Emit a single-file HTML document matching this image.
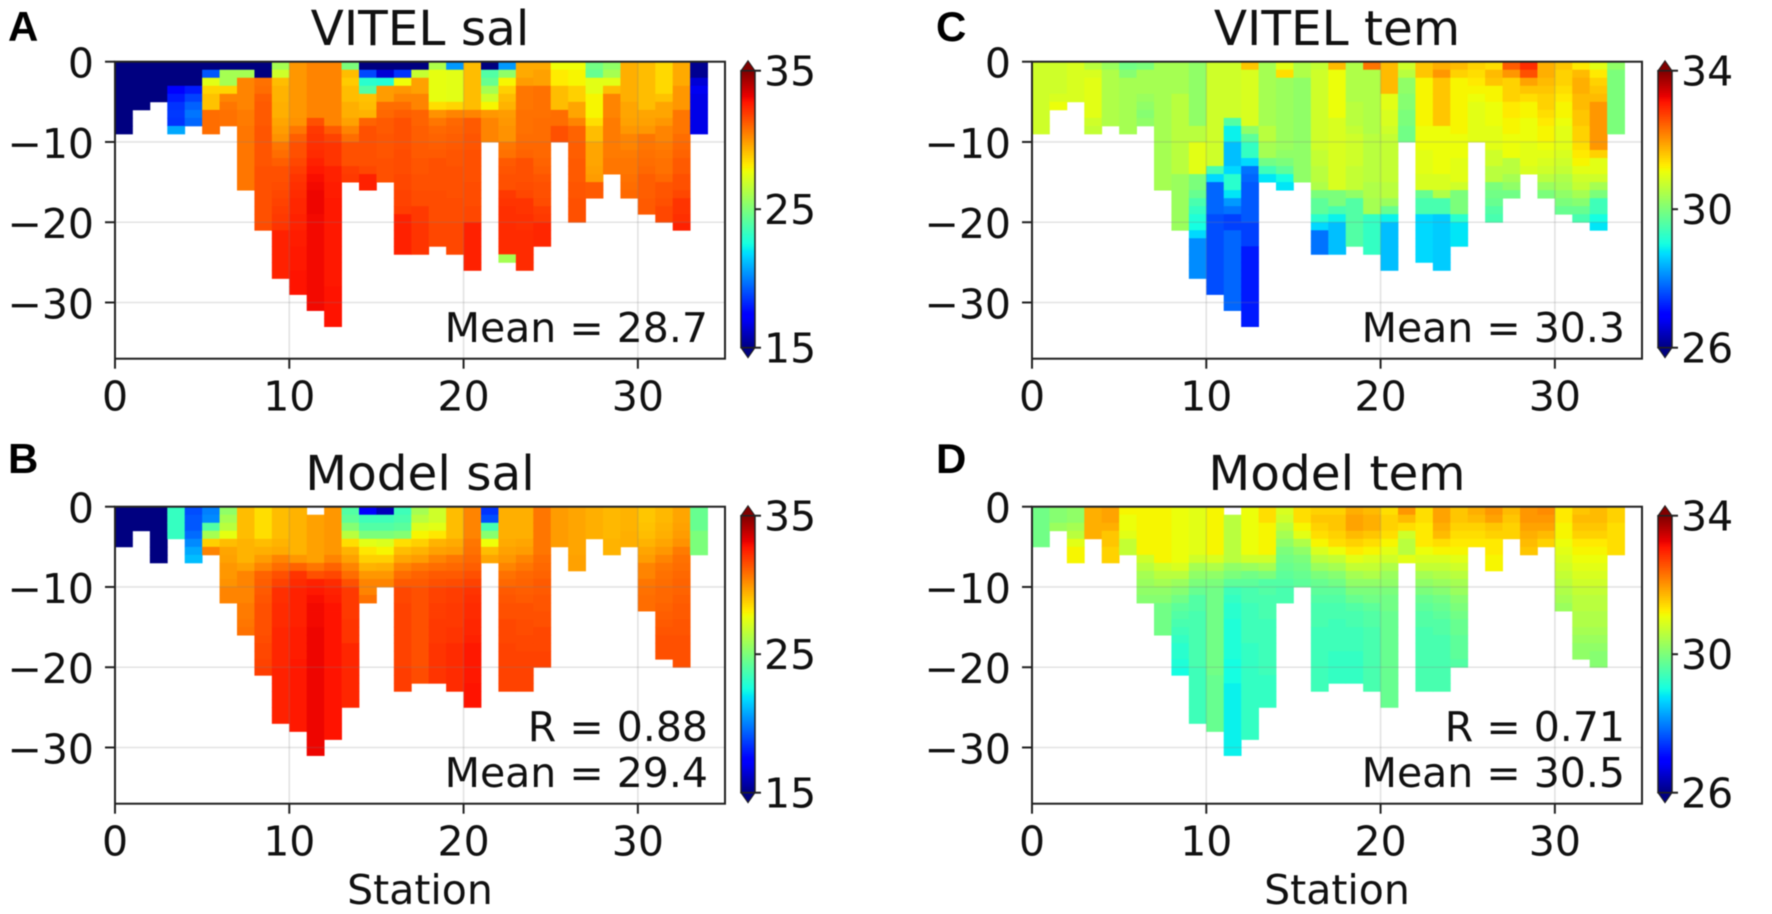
<!DOCTYPE html>
<html lang="en">
<head>
<meta charset="utf-8">
<title>VITEL and Model salinity and temperature sections</title>
<style>
html,body{margin:0;padding:0;background:#fff;}
svg{display:block;filter:blur(0.5px);}
text{font-family:"DejaVu Sans","Liberation Sans",sans-serif;fill:#111;}
.tick{font-size:41px;}
.title{font-size:48.5px;text-anchor:middle;}
.ann{font-size:41px;text-anchor:end;}
.letter{font-family:"Liberation Sans",sans-serif;font-size:42px;font-weight:bold;fill:#000;}
</style>
</head>
<body>
<svg id="fig" xmlns="http://www.w3.org/2000/svg" width="1772" height="914" viewBox="0 0 1772 914">
  <rect width="1772" height="914" fill="#fff"/>
  <g id="panelA"></g>
  <g id="panelB"></g>
  <g id="panelC"></g>
  <g id="panelD"></g>

  <text class="letter" x="8" y="41">A</text>
  <text class="letter" x="8" y="473">B</text>
  <text class="letter" x="936" y="41">C</text>
  <text class="letter" x="936" y="473">D</text>

  <text class="title" x="420" y="45">VITEL sal</text>
  <text class="title" x="420" y="490">Model sal</text>
  <text class="title" x="1337" y="45">VITEL tem</text>
  <text class="title" x="1337" y="490">Model tem</text>

  <text class="ann" x="708" y="342">Mean = 28.7</text>
  <text class="ann" x="708" y="741">R = 0.88</text>
  <text class="ann" x="708" y="787">Mean = 29.4</text>
  <text class="ann" x="1625" y="342">Mean = 30.3</text>
  <text class="ann" x="1625" y="741">R = 0.71</text>
  <text class="ann" x="1625" y="787">Mean = 30.5</text>

  <text class="tick" x="420" y="904" text-anchor="middle">Station</text>
  <text class="tick" x="1337" y="904" text-anchor="middle">Station</text>
</svg>
<script>
const xTicks = [0, 10, 20, 30];
const yTicks = [0, -10, -20, -30];
const salBarTicks = [15, 25, 35];
const temBarTicks = [26, 30, 34];

const vitelSal = [
[15,15,15,15,15,15,15,15,15],
[15,15,15,15,15,15],
[15,15,15,15,15],
[15,15,15,17.5,18,18.5,18.6,18.5,20.8],
[15,15,15,18,18.8,19.4,19.8,19.5],
[15,19.2,27.5,28.7,29.1,29.1,30.9,30.9,30.9],
[15,26,26,28.7,30.4,30.7,30.8,30.8],
[15,26,30.4,30.4,30.4,30.4,30.6,30.6,30.7,30.7,30.7,30.7,30.7,30.7,30.7,30.7],
[15,15,30.8,30.9,31.2,31.3,31.3,31.3,31.4,31.4,31.4,31.4,31.4,31.5,31.5,31.5,31.5,31.5,31.5,31.5,31.6],
[26,27,29.2,29.4,29.4,29.5,29.5,29.7,29.9,30.1,30.7,30.9,31.2,31.5,31.5,31.6,31.7,31.8,31.9,32,32.1,32.5,32.5,32.5,32.5,32.5,32.5],
[30,30,30,30,30,30,30,30.1,30.7,31.2,31.5,31.5,31.7,31.9,32.1,32.2,32.3,32.4,32.4,32.5,32.5,32.6,32.6,32.7,32.7,32.7,32.8,32.8,32.8],
[30.4,30.4,30.4,30.4,30.4,30.4,30.4,31.5,32,32.1,32.2,32.3,32.5,32.7,32.9,33,33.1,33.1,33.1,33,33,33,33,33,33,33,33,33,33,33,33],
[30.4,30.4,30.4,30.4,30.4,30.4,30.4,30.4,31.3,31.8,32.1,32.1,32.1,32.5,32.5,32.6,32.6,32.7,32.7,32.7,32.7,32.7,32.7,32.7,32.7,32.7,32.7,32.7,32.8,32.8,32.8,32.8,32.8],
[25,29.2,28.9,29.2,29.2,29.5,29.5,29.8,30.4,30.9,31.5,31.5,31.5,31.9,32],
[15,18.9,23,24,29.1,29.2,29.4,31.1,31.5,31.5,31.5,31.5,31.5,31.7,32.5,32.5],
[15,16.5,22.8,29.9,29.9,30.9,31,31.3,31.3,31.4,31.4,31.4,31.5,31.5,31.5],
[15,18.5,27.8,30,30.4,30.9,31.2,31.5,31.5,31.5,31.5,31.6,31.6,31.6,31.7,31.7,31.8,31.8,31.9,32.5,32.5,32.5,32.5,32.5],
[15,26.8,29.8,29.8,30.4,30.4,31.1,31.1,31.2,31.2,31.3,31.3,31.4,31.4,31.5,31.5,31.6,31.6,32,32,32.1,32.1,32.1,32.1],
[26.2,27.6,27.6,27.6,27.6,28.5,30.1,30.7,31,31.1,31.2,31.3,31.5,31.5,31.5,31.5,31.6,31.6,31.6,31.6,31.7,31.7,31.7],
[20.5,27.5,27.5,27.5,27.5,28.7,30.4,31,31.1,31.2,31.3,31.4,31.4,31.5,31.5,31.5,31.5,31.6,31.6,31.6,31.7,31.7,31.7,31.7],
[29.2,29.2,29.2,29.2,29.2,29.2,30.4,31.3,31.3,31.4,31.4,31.5,31.5,31.5,31.5,31.6,31.6,31.6,31.7,31.7,32.5,32.5,32.5,32.5,32.5,32.5],
[15,24,24.5,26,27,28,30,30.4,30.4,30.4],
[20.5,25.5,28,28.8,29.2,29.4,29.9,30,30.1,30.1,30.7,30.8,31.3,31.4,31.5,31.5,32,32.1,32.2,32.2,32.3,32.3,32.3,32.3,26],
[29.6,29.6,29.9,30.7,30.7,30.7,30.8,30.8,30.8,30.9,31,31.1,31.5,31.5,31.5,31.6,31.7,32.1,32.1,32.2,32.2,32.3,32.3,32.3,32.3,32.3],
[29.6,29.8,29.8,30.8,30.8,30.8,30.8,30.9,30.9,30.9,31,31,31.1,31.2,31.4,31.5,31.5,31.6,31.9,32,32.4,32.4,32.4],
[27.8,28.2,28.2,29.2,29.2,29.2,30.9,30.9,31.5,31.5],
[27.8,28,28,28.8,28.8,29.7,29.7,30.4,31.1,31.1,31.2,31.2,31.3,31.3,31.3,31.4,31.4,31.5,31.5,31.5],
[24.8,24.5,27.5,27.5,28,28,28,28.5,29.2,29.2,29.7,29.7,29.7,29.8,29.9,31.3,31.3],
[25.5,26,27.5,29.2,30.4,30.4,30.4,30.6,30.6,30.6,30.6,30.6,30.7,30.7],
[29.5,29.5,29.5,29.5,29.5,29.7,29.7,29.8,30,30.4,30.4,30.6,30.7,30.7,30.8,30.9,31],
[29.2,29.2,29.2,29.2,29.2,29.2,29.7,29.8,30,30.7,30.7,30.8,30.9,31,31.2,31.2,31.2,31.3,31.3],
[28.6,28.6,28.6,28.6,29.1,29.7,29.7,30,30.4,30.4,30.6,30.7,30.8,30.8,31,31.4,31.4,31.5,31.7,31.7],
[29.6,29.6,29.6,30,30,30,30.7,30.7,30.7,30.9,31,31.1,31.3,31.3,31.5,31.5,31.7,32.1,32.1,32.2,32.5],
[15.3,15.3,16.5,17,16.8,16.8,16.8,16.8,16.8]
];

const modelSal = [
[15,15,15,15,15],
[15,15,15],
[15,15,15,15,15,15,15],
[23.3,23.3,23.3,23.3],
[19,19.2,19.2,19.6,20.2,20.8,21.2],
[20,20.2,24,26,28.8,30.4],
[25.5,26,26.5,27.6,29.2,29.7,29.8,30,30,30.1,30.4,30.4],
[29.2,29.2,29.2,29.2,29.4,29.4,29.4,29.8,30.4,30.4,30.4,30.4,30.6,30.6,30.7,30.8],
[28.5,28.5,28.5,28.5,29.2,29.5,29.9,30.4,31.1,31.2,31.3,31.4,31.5,31.5,31.5,31.5,31.6,31.7,31.7,31.8,31.9],
[29.2,29.2,29.2,29.2,29.4,29.6,30.4,30.9,31.5,31.8,32.2,32.2,32.3,32.3,32.3,32.4,32.4,32.4,32.4,32.4,32.5,32.5,32.5,32.5,32.5,32.5,32.5],
[29.4,29.4,29.4,29.4,29.4,29.4,30,31.1,32.1,32.3,32.5,32.5,32.5,32.5,32.5,32.6,32.6,32.6,32.6,32.7,32.7,32.7,32.7,32.7,32.7,32.7,32.7,32.7],
[null,29.8,29.8,29.8,29.8,29.8,29.8,30.7,31.5,32.5,32.7,32.9,33,33,33,33.1,33.1,33.1,33.1,33.1,33.1,33.1,33.1,33.1,33.1,33.1,33.1,33.1,33.1,33.1,33.1],
[30,30,30,30,30,30,30.4,31.1,31.7,32.3,32.5,32.6,32.8,32.8,32.8,32.8,32.8,32.8,32.8,32.8,32.8,32.8,32.8,32.8,32.8,32.8,32.8,32.8,32.8],
[24,24.3,25.2,26.5,28.5,29.4,29.8,30.4,30.9,31.5,32,32,32,32,32.1,32.1,32.1,32.4,32.4,32.4,32.4,32.4,32.4,32.4,32.4],
[17.5,23.5,24,25,27.5,28.3,28.8,29.4,30,30.4,30.4,30.8],
[16,23.5,24,25,27.3,28,28.8,29.5,30,30.4],
[23.5,23.8,24.2,25.2,28.5,29.2,29.7,30.4,30.9,31.3,31.7,31.7,31.8,31.8,31.8,31.8,31.8,31.8,31.8,31.8,31.9,31.9,31.9],
[26,26.5,27.3,28,28.8,29.4,29.9,30.7,31.1,31.3,31.5,31.5,31.5,31.5,31.5,31.5,31.5,31.5,31.5,31.5,31.6,31.6],
[27,27,27.5,28.3,29.4,29.8,30.4,30.9,31.3,31.5,31.8,31.8,31.9,31.9,32,32,32,32.1,32.1,32.1,32.1,32.1],
[29.2,29.2,29.2,29.2,29.6,29.9,30.7,31,31.3,31.6,31.9,31.9,32,32,32,32.1,32.1,32.3,32.3,32.3,32.3,32.3,32.3],
[30.4,30.4,30.4,30.4,30.7,30.8,31,31.2,31.5,31.8,32.1,32.2,32.3,32.3,32.4,32.4,32.5,32.7,32.7,32.7,32.7,32.7,32.8,32.8,32.8],
[18.5,19,23.7,25.3,27.8,29.2,29.7],
[29.5,29.5,29.5,29.5,29.6,29.8,30,30.4,30.8,31,31.3,31.4,31.5,31.5,31.7,31.7,31.7,31.8,31.8,31.8,31.8,31.8,31.8],
[29.5,29.5,29.5,29.5,29.7,29.9,30.4,30.7,31,31.1,31.2,31.3,31.5,31.5,31.6,31.6,31.7,31.7,31.8,31.8,31.8,31.8,31.8],
[30.7,30.7,30.7,30.7,30.7,30.7,30.9,31,31.1,31.3,31.3,31.4,31.4,31.5,31.5,31.7,31.7,31.7,31.8,31.8],
[29.9,29.9,29.9,29.9,29.9],
[29.7,29.7,29.7,29.7,29.7,29.7,29.8,29.8],
[29.5,29.5,29.5,29.5],
[29.3,29.3,29.3,29.3,29.4,29.4],
[29.4,29.4,29.4,29.5,29.5],
[29,29,29.1,29.2,29.4,29.7,29.9,30.4,30.4,30.7,30.8,30.9,30.9],
[29.3,29.3,29.4,29.5,29.7,30,30.4,30.7,30.8,30.9,31,31,31.1,31.2,31.3,31.4,31.5,31.5,31.5],
[29.7,29.7,29.8,29.9,30.1,30.6,30.8,30.9,31,31.1,31.1,31.2,31.3,31.3,31.4,31.4,31.5,31.5,31.5,31.5],
[24.5,24.5,24.5,25,25,25]
];

const vitelTem = [
[30.8,30.8,30.8,30.8,30.8,30.8,30.8,30.8,30.8],
[30.8,30.8,30.8,30.8,30.9,31.1],
[30.9,30.9,30.9,30.9,30.9],
[30.6,30.9,31,31,31,31,31,30.8,30.7],
[30.3,30.5,30.5,30.5,30.5,30.5,30.5,30.5],
[29.9,30.1,30.4,30.4,30.4,30.4,30.4,30.4,30.4],
[30,30.4,30.4,30.4,30.3,30.2,30.1,30.2],
[30.4,30.4,30.4,30.4,30.4,30.4,30.4,30.4,30.4,30.4,30.4,30.4,30.4,30.4,30.4,30.4],
[30.4,30.4,30.4,30.4,30.6,30.6,30.6,30.6,30.6,30.6,30.6,30.6,30.6,30.6,30.3,30.3,30.3,30.3,30.3,30.3,30.3],
[30.2,30.2,30.2,30.2,30.2,30.2,30.2,30.2,30.6,30.6,31,31,31,31,30,30,29.8,29.5,29.3,29.1,29,28.7,28.1,28.1,28.1,28.1,28.1],
[30.8,30.8,30.8,30.8,30.8,30.8,30.8,30.8,30.8,30.8,30.8,30.8,30.8,29.5,28.7,27.8,27.8,27.8,27.8,27.6,27.6,27.6,27.6,27.6,27.6,27.6,27.6,27.6,27.6],
[30.8,30.8,30.8,30.8,30.8,30.8,30.8,29.6,28.9,28.9,28.5,28.5,28.5,28.7,29.2,29.2,28.8,28.2,27.9,27.5,27.5,27.8,27.8,27.8,27.8,27.8,27.8,27.8,27.8,27.8,27.8],
[31.6,30.9,30.9,30.9,30.9,30.9,30.9,30.9,30.2,29.7,29.3,29.3,28.7,27.9,27.8,27.7,27.7,27.7,27.7,27.7,27.5,27.5,27.5,27.2,27.2,27.2,27.2,27.2,27.2,27.2,27.2,27.2,27.2],
[30.4,30.4,30.4,30.4,30.4,30.4,30.4,30.4,30.6,30.6,30.4,30.4,29.9,29.4,28.8],
[31,31.4,30.3,30.3,30.3,30.3,30.3,30.3,30.3,30.3,30.3,30.2,30,29.7,29,28.8],
[30.5,30.5,30.2,30.2,30.2,30.2,30.2,30.2,30.2,30.2,30.2,30.2,30.2,30.2,30.2],
[30.7,30.8,30.8,30.8,30.8,30.8,30.8,30.8,30.8,30.8,30.8,30.7,30.7,30.6,30.6,30.5,30,29.7,29.7,29.2,28.7,27.9,27.9,27.9],
[31.7,31.1,31.1,31.1,31.1,31.1,31.1,30.9,30.9,30.9,30.9,30.9,30.9,30.9,30.9,30.9,30,30,29.5,28.9,28.5,28.5,28.5,28.5],
[30.5,30.5,30.5,30.5,30.5,30.6,30.6,30.6,30.7,30.8,30.8,30.8,30.8,30.7,30.7,30.7,30.2,29.6,29.6,29.6,29.6,29.6,29.6],
[32.3,30.5,30.5,30.5,30.5,30.5,30.5,30.5,30.5,30.6,30.6,30.6,30.6,30.6,30.6,30.5,30.5,30.4,30.4,29.3,29.3,29.3,29.3,29.3],
[31.7,31.7,31.7,31.7,31,31,30.9,30.9,30.8,30.7,30.7,30.7,30.7,30.7,30.7,30.6,30.6,30.3,29.8,28.9,28.5,28.5,28.5,28.5,28.5,28.5],
[30.8,30.6,30.2,30.2,30.1,30.1,30,30,29.9,29.9],
[31.6,31.6,31.2,31.2,31.2,31.2,31.2,31.2,31.1,31.1,31.1,31,31,31,30.9,30.9,29.8,29.5,29.5,28.7,28.7,28.7,28.7,28.7,28.7],
[31.8,32,31.6,31.6,31.6,31.6,31.6,31.6,31.1,31.1,31.1,31.1,31.1,31.1,30.9,30.9,30.5,29.5,29.5,28.6,28.6,28.6,28.6,28.6,28.6,28.6],
[31.7,31.5,31.2,31.2,31.2,31.2,31.2,31.2,31.2,31.1,31.1,31.1,31,31,31,30.8,30,30,30,29.2,28.8,28.8,28.8],
[31.5,31.4,31.3,31.2,31.1,31,31,31,31,31],
[31.4,31.7,31.6,31.2,31.2,31.1,31.1,31.1,31,31,31,30.8,30.8,30.6,30.6,30,29.9,29.8,29.6,29.5],
[32.5,32,31.5,31.5,31.5,31.3,31.3,31.2,31.2,31.1,31.1,31.1,30.6,30.6,30.4,30.2,29.9],
[32.9,32.6,31.9,31.6,31.4,31.2,31.2,31.1,31.1,31.1,31,31,31,30.9],
[31.8,31.8,31.7,31.6,31.5,31.5,31.4,31.3,31.2,31.2,31.1,31,30.9,30.8,30.6,30.3,30],
[31.6,31.5,31.5,31.4,31.3,31.2,31.2,31.1,31,31,31,30.9,30.8,30.7,30.5,30.4,30.2,30,29.8],
[31.3,31.7,31.8,31.8,31.7,31.7,31.6,31.6,31.5,31.5,31.4,31.3,31.2,31,30.8,30.7,30.4,30.1,29.8,29.5],
[31,31.3,31.5,31.6,31.7,32,32,32,32,32,32,31.5,31,31,30.8,30.4,30,29.4,29.4,29,28.8],
[30.2,30,30,30,30,30,30,30,30]
];

const modelTem = [
[29.9,29.9,29.9,29.9,29.9],
[30.1,30.1,30.3],
[30.2,30.2,30.4,30.6,31,31.2,31.2],
[31.8,31.8,31.8,31.8],
[31.9,31.9,31.8,31.6,31.6,31.5,31.5],
[31.2,31.1,31.1,31,30.7,30.7],
[31.2,31.2,31.2,31.2,31.2,31.2,30.8,30.6,30.4,30.3,30.2,30.1],
[31.2,31.2,31.2,31.2,31.2,31.2,31.2,30.8,30.6,30.4,30.2,30.1,29.9,29.9,29.9,29.9],
[31.1,31.1,31.1,31.1,31.1,31.1,31.1,30.9,30.6,30.3,30.1,29.9,29.7,29.6,29.5,29.4,29.3,29.2,29.2,29.1,29],
[31,31,31,31,31,31,30.8,30.4,30.2,30,29.8,29.6,29.6,29.5,29.5,29.5,29.5,29.5,29.5,29.5,29.4,29.4,29.4,29.4,29.4,29.4,29.4],
[31.2,31.2,31.2,31.2,31.2,31.2,30.9,30.5,30.2,30,29.9,29.9,29.9,29.9,29.9,29.9,29.9,29.9,29.9,29.9,29.9,29.8,29.8,29.8,29.8,29.8,29.8,29.8],
[null,30.6,30.6,30.6,30.6,30.6,30.6,30.2,30,29.7,29.4,29.3,29.2,29.2,29.1,29.1,29.1,29.1,29.1,29,29,29,28.9,28.9,28.9,28.9,28.9,28.9,28.9,28.9,28.9],
[31.1,31.1,31.1,31.1,31.1,31.1,30.8,30.3,29.9,29.7,29.5,29.5,29.4,29.4,29.4,29.4,29.4,29.3,29.3,29.3,29.3,29.3,29.3,29.3,29.3,29.3,29.3,29.3,29.3],
[31.4,31.4,31.2,31.2,31.2,31.2,30.8,30.4,30,29.6,29.6,29.5,29.5,29.5,29.4,29.4,29.4,29.4,29.4,29.4,29.4,29.3,29.3,29.3,29.3],
[30.9,30.8,30.6,30.4,30.2,30,29.9,29.8,29.7,29.6,29.5,29.5],
[31.4,31.4,31.2,31,30.5,30.2,30,29.9,29.8,29.7],
[31.5,31.6,31.5,31.4,31.2,30.9,30.6,30.3,30,29.8,29.7,29.6,29.5,29.5,29.5,29.4,29.4,29.4,29.4,29.4,29.4,29.4,29.4],
[31.5,31.6,31.6,31.5,31.4,31.1,30.7,30.4,30.1,29.9,29.7,29.6,29.5,29.5,29.4,29.4,29.4,29.4,29.3,29.3,29.3,29.3],
[31.8,31.9,31.9,31.7,31.5,31.3,31,30.7,30.4,30.2,30,29.8,29.6,29.5,29.5,29.4,29.4,29.4,29.3,29.3,29.3,29.3],
[31.7,31.8,31.8,31.6,31.4,31.2,30.9,30.7,30.5,30.2,30,29.9,29.7,29.6,29.6,29.5,29.5,29.5,29.5,29.5,29.5,29.5,29.5],
[31.4,31.5,31.5,31.4,31.2,31,30.8,30.5,30.3,30.2,30,29.9,29.9,29.8,29.8,29.8,29.8,29.8,29.8,29.8,29.8,29.8,29.8,29.8,29.8],
[32,31.7,31.4,30.8,30.6,30.6,31],
[31.4,31.4,31.3,31.3,31.3,31.1,30.9,30.7,30.4,30.2,30,29.8,29.7,29.6,29.6,29.5,29.5,29.5,29.5,29.5,29.5,29.5,29.5],
[31.9,31.9,31.8,31.7,31.4,31.2,30.9,30.7,30.5,30.3,30.1,29.9,29.8,29.7,29.6,29.6,29.5,29.5,29.5,29.5,29.5,29.5,29.5],
[31.6,31.6,31.5,31.4,31.3,31.2,31,30.8,30.6,30.4,30.3,30.1,30,29.9,29.8,29.8,29.7,29.7,29.7,29.6],
[31.8,31.7,31.5,31.4,31.3],
[32,31.9,31.6,31.5,31.3,31.3,31.2,31.2],
[31.7,31.6,31.5,31.5],
[32,32,31.9,31.8,31.7,31.6],
[32.1,32,31.9,31.7,31.5],
[31.3,31.3,31.2,31.2,31.1,31,30.9,30.8,30.7,30.6,30.5,30.4,30.3],
[31.6,31.7,31.6,31.5,31.3,31.2,31.1,31,30.9,30.8,30.7,30.6,30.6,30.5,30.5,30.4,30.3,30.2,30.2],
[31.7,31.7,31.6,31.5,31.3,31.2,31.1,31,30.9,30.8,30.7,30.6,30.6,30.5,30.5,30.4,30.3,30.2,30.1,30.1],
[31.5,31.5,31.4,31.4,31.4,31.4]
];

const NS = 'http://www.w3.org/2000/svg';

function ramp(t, knots) {
  for (let i = 1; i < knots.length; i++) {
    if (t <= knots[i][0]) {
      const a = knots[i - 1], b = knots[i];
      return a[1] + (b[1] - a[1]) * (t - a[0]) / (b[0] - a[0]);
    }
  }
  return knots[knots.length - 1][1];
}

function jet(t) {
  t = Math.max(0, Math.min(1, t));
  const r = ramp(t, [[0, 0], [0.35, 0], [0.66, 1], [0.89, 1], [1, 0.5]]);
  const g = ramp(t, [[0, 0], [0.125, 0], [0.375, 1], [0.64, 1], [0.91, 0], [1, 0]]);
  const b = ramp(t, [[0, 0.5], [0.11, 1], [0.34, 1], [0.65, 0], [1, 0]]);
  return 'rgb(' + Math.round(255 * r) + ',' + Math.round(255 * g) + ',' + Math.round(255 * b) + ')';
}

function add(parent, tag, attrs) {
  const el = document.createElementNS(NS, tag);
  for (const k in attrs) el.setAttribute(k, attrs[k]);
  parent.appendChild(el);
  return el;
}

function drawPanel(id, values, vmin, vmax, barTicks, left, top) {
  const g = document.getElementById(id);
  const W = 610, H = 297;
  const xScale = (s) => left + (s / 35) * W;
  const yScale = (d) => top + (-d / 37) * H;
  const colorOf = (v) => jet((v - vmin) / (vmax - vmin));

  values.forEach((profile, station) => {
    profile.forEach((v, depth) => {
      if (v === null) return;
      const x0 = xScale(station), x1 = xScale(station + 1);
      const y0 = yScale(-depth), y1 = yScale(-(depth + 1));
      const cell = add(g, 'rect', {x: x0, y: y0, width: x1 - x0 + 0.4, height: y1 - y0 + 0.4, fill: colorOf(v)});
      
      
    });
  });

  xTicks.forEach((t) => {
    const x = xScale(t);
    if (t !== 0) {
      const grid = add(g, 'line', {x1: x, x2: x, y1: top, y2: top + H, stroke: '#808080', 'stroke-opacity': 0.22, 'stroke-width': 1.6});
      
      
    }
    const mark = add(g, 'line', {x1: x, x2: x, y1: top + H, y2: top + H + 10, stroke: '#222', 'stroke-width': 2});
    
    
    const label = add(g, 'text', {x: x, y: top + H + 52, 'text-anchor': 'middle', class: 'tick'});
    label.textContent = String(t);
    
    
  });

  yTicks.forEach((t) => {
    const y = yScale(t);
    if (t !== 0) {
      const grid = add(g, 'line', {x1: left, x2: left + W, y1: y, y2: y, stroke: '#808080', 'stroke-opacity': 0.22, 'stroke-width': 1.6});
      
      
    }
    const mark = add(g, 'line', {x1: left - 10, x2: left, y1: y, y2: y, stroke: '#222', 'stroke-width': 2});
    
    
    const label = add(g, 'text', {x: left - 21, y: y + 16, 'text-anchor': 'end', class: 'tick'});
    label.textContent = String(t).replace('-', '\u2212');
    
    
  });

  const frame = add(g, 'rect', {x: left, y: top, width: W, height: H, fill: 'none', stroke: '#222', 'stroke-width': 2});
  
  

  const barLeft = left + 626, barW = 14, barTop = top + 9, barH = 277;
  const barY = (v) => barTop + (vmax - v) / (vmax - vmin) * barH;
  const steps = 128;
  for (let i = 0; i < steps; i++) {
    const v = vmin + (i + 0.5) / steps * (vmax - vmin);
    const seg = add(g, 'rect', {x: barLeft, y: barY(vmin + (i + 1) / steps * (vmax - vmin)), width: barW, height: barH / steps + 0.5, fill: colorOf(v)});
    
    
  }
  const tipTop = add(g, 'polygon', {points: barLeft + ',' + barTop + ' ' + (barLeft + barW) + ',' + barTop + ' ' + (barLeft + barW / 2) + ',' + (barTop - 10), fill: '#800000', stroke: '#222', 'stroke-width': 1});
  
  
  const tipBottom = add(g, 'polygon', {points: barLeft + ',' + (barTop + barH) + ' ' + (barLeft + barW) + ',' + (barTop + barH) + ' ' + (barLeft + barW / 2) + ',' + (barTop + barH + 10), fill: '#00007f', stroke: '#222', 'stroke-width': 1});
  
  
  const barFrame = add(g, 'rect', {x: barLeft, y: barTop, width: barW, height: barH, fill: 'none', stroke: '#222', 'stroke-width': 1.5});
  
  

  barTicks.forEach((t) => {
    const y = barY(t);
    const mark = add(g, 'line', {x1: barLeft + barW, x2: barLeft + barW + 6, y1: y, y2: y, stroke: '#222', 'stroke-width': 2});
    
    
    const label = add(g, 'text', {x: barLeft + barW + 9, y: y + 15, class: 'tick'});
    label.textContent = String(t);
    
    
  });
}

drawPanel('panelA', vitelSal, 15, 35, salBarTicks, 115, 61.7);
drawPanel('panelB', modelSal, 15, 35, salBarTicks, 115, 506.7);
drawPanel('panelC', vitelTem, 26, 34, temBarTicks, 1032, 61.7);
drawPanel('panelD', modelTem, 26, 34, temBarTicks, 1032, 506.7);
</script>
</body>
</html>
